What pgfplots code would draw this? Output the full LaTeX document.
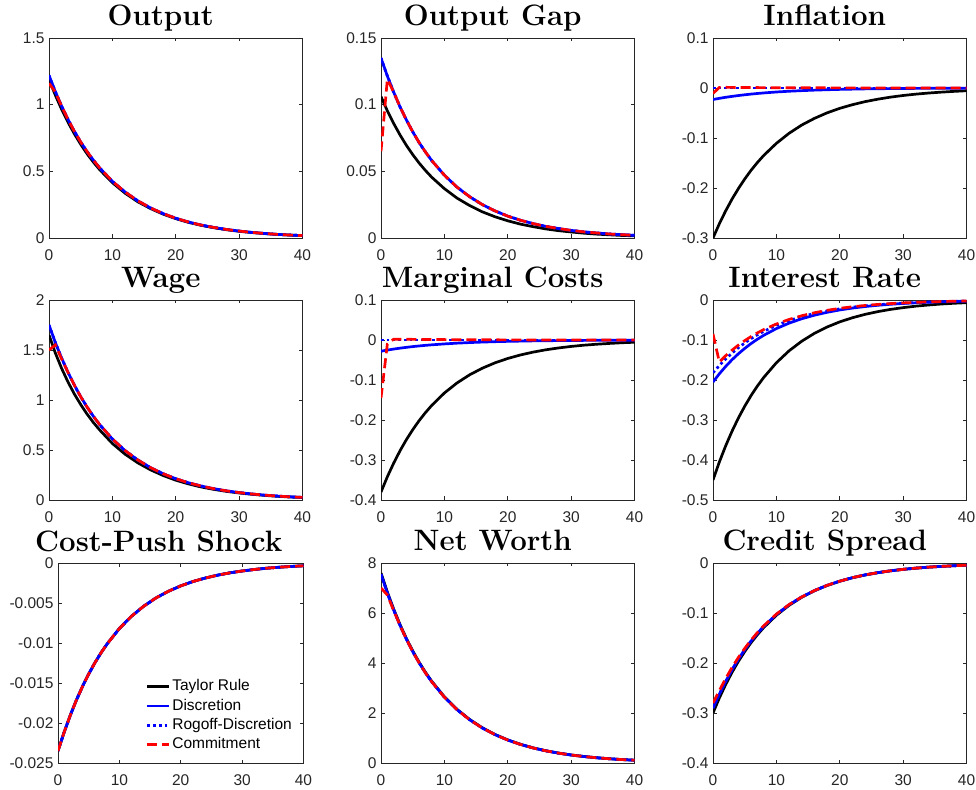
\documentclass[border=0pt]{standalone}
\usepackage{fontspec}
\setsansfont{Liberation Sans}
\usepackage{pgfplots}
\usepackage{pgfplotstable}
\pgfplotsset{compat=1.18}

\definecolor{axgray}{gray}{0.15}

% t tr di ro co  (tr = Taylor rule, di = discretion, ro = Rogoff, co = commitment)
\pgfplotstableread{
t tr di ro co
0 1.19 1.22 1.22 1.16
1 1.071 1.098 1.098 1.095
2 0.964 0.988 0.988 0.988
3 0.868 0.889 0.889 0.889
4 0.781 0.800 0.800 0.800
5 0.703 0.720 0.720 0.720
6 0.632 0.648 0.648 0.648
7 0.569 0.584 0.584 0.584
8 0.512 0.525 0.525 0.525
10 0.415 0.425 0.425 0.425
12 0.336 0.345 0.345 0.345
14 0.272 0.279 0.279 0.279
16 0.221 0.226 0.226 0.226
18 0.179 0.183 0.183 0.183
20 0.145 0.148 0.148 0.148
22 0.117 0.120 0.120 0.120
24 0.095 0.097 0.097 0.097
26 0.077 0.079 0.079 0.079
28 0.062 0.064 0.064 0.064
30 0.050 0.052 0.052 0.052
32 0.041 0.042 0.042 0.042
34 0.033 0.034 0.034 0.034
36 0.027 0.027 0.027 0.027
38 0.022 0.022 0.022 0.022
40 0.018 0.018 0.018 0.018
}\output

\pgfplotstableread{
t tr di ro co
0 0.106 0.135 0.135 0.065
1 0.0954 0.1215 0.1215 0.119
2 0.0859 0.1094 0.1094 0.1094
3 0.0773 0.0984 0.0984 0.0984
4 0.0695 0.0886 0.0886 0.0886
5 0.0626 0.0797 0.0797 0.0797
6 0.0563 0.0717 0.0717 0.0717
7 0.0507 0.0646 0.0646 0.0646
8 0.0456 0.0581 0.0581 0.0581
10 0.0370 0.0471 0.0471 0.0471
12 0.0299 0.0381 0.0381 0.0381
14 0.0243 0.0309 0.0309 0.0309
16 0.0196 0.0250 0.0250 0.0250
18 0.0159 0.0203 0.0203 0.0203
20 0.0129 0.0164 0.0164 0.0164
22 0.0104 0.0133 0.0133 0.0133
24 0.0085 0.0108 0.0108 0.0108
26 0.0068 0.0087 0.0087 0.0087
28 0.0055 0.0071 0.0071 0.0071
30 0.0045 0.0057 0.0057 0.0057
32 0.0036 0.0046 0.0046 0.0046
34 0.0029 0.0038 0.0038 0.0038
36 0.0024 0.0030 0.0030 0.0030
38 0.0019 0.0025 0.0025 0.0025
40 0.0016 0.0020 0.0020 0.0020
}\gap

\pgfplotstableread{
t tr di ro co
0 -0.300 -0.023 0 -0.011
1 -0.2715 -0.0207 0 0.0012
2 -0.2457 -0.0186 0 0.0013
3 -0.2223 -0.0168 0 0.0012
4 -0.2013 -0.0151 0 0.0011
5 -0.1821 -0.0136 0 0.0010
6 -0.1647 -0.0122 0 0.0009
7 -0.1491 -0.0110 0 0.0008
8 -0.1350 -0.0099 0 0.0007
10 -0.1107 -0.0080 0 0.0006
12 -0.0906 -0.0065 0 0.0005
14 -0.0741 -0.0053 0 0.0004
16 -0.0608 -0.0043 0 0.0003
18 -0.0497 -0.0035 0 0.0003
20 -0.0407 -0.0028 0 0.0002
22 -0.0334 -0.0023 0 0.0002
24 -0.0273 -0.0018 0 0.0001
26 -0.0224 -0.0015 0 0.0001
28 -0.0183 -0.0012 0 0.0001
30 -0.0150 -0.0010 0 0.0001
32 -0.0123 -0.0008 0 0
34 -0.0101 -0.0006 0 0
36 -0.0083 -0.0005 0 0
38 -0.0068 -0.0004 0 0
40 -0.0055 -0.0003 0 0
}\inflation

\pgfplotstableread{
t tr di ro co
0 1.65 1.75 1.75 1.50
1 1.47 1.575 1.575 1.55
2 1.315 1.4175 1.4175 1.41
3 1.18 1.2758 1.2758 1.2758
4 1.06 1.1482 1.1482 1.1482
5 0.955 1.0334 1.0334 1.0334
6 0.86 0.9300 0.9300 0.9300
7 0.775 0.8370 0.8370 0.8370
8 0.70 0.7534 0.7534 0.7534
10 0.565 0.6102 0.6102 0.6102
12 0.458 0.4942 0.4942 0.4942
14 0.372 0.4004 0.4004 0.4004
16 0.302 0.3243 0.3243 0.3243
18 0.245 0.2627 0.2627 0.2627
20 0.198 0.2128 0.2128 0.2128
22 0.161 0.1724 0.1724 0.1724
24 0.130 0.1397 0.1397 0.1397
26 0.106 0.1131 0.1131 0.1131
28 0.086 0.0915 0.0915 0.0915
30 0.070 0.0742 0.0742 0.0742
32 0.057 0.0600 0.0600 0.0600
34 0.046 0.0487 0.0487 0.0487
36 0.037 0.0394 0.0394 0.0394
38 0.030 0.0319 0.0319 0.0319
40 0.024 0.0259 0.0259 0.0259
}\wage

\pgfplotstableread{
t tr di ro co
0 -0.38 -0.028 0 -0.145
1 -0.342 -0.0252 0 -0.010
2 -0.3078 -0.0227 0 0.0020
3 -0.2770 -0.0204 0 0.0020
4 -0.2493 -0.0184 0 0.0018
5 -0.2244 -0.0165 0 0.0016
6 -0.2019 -0.0149 0 0.0015
7 -0.1818 -0.0134 0 0.0013
8 -0.1636 -0.0121 0 0.0012
10 -0.1325 -0.0098 0 0.0010
12 -0.1073 -0.0079 0 0.0008
14 -0.0869 -0.0064 0 0.0006
16 -0.0704 -0.0052 0 0.0005
18 -0.0570 -0.0042 0 0.0004
20 -0.0462 -0.0034 0 0.0003
22 -0.0374 -0.0028 0 0.0003
24 -0.0303 -0.0022 0 0.0002
26 -0.0245 -0.0018 0 0.0002
28 -0.0199 -0.0015 0 0.0001
30 -0.0161 -0.0012 0 0.0001
32 -0.0130 -0.0010 0 0.0001
34 -0.0106 -0.0008 0 0
36 -0.0086 -0.0006 0 0
38 -0.0069 -0.0005 0 0
40 -0.0056 -0.0004 0 0
}\mc

\pgfplotstableread{
t tr di ro co
0 -0.45 -0.205 -0.182 -0.085
1 -0.405 -0.1845 -0.1638 -0.155
2 -0.3645 -0.1661 -0.1474 -0.1393
3 -0.3281 -0.1494 -0.1327 -0.1254
4 -0.2952 -0.1345 -0.1194 -0.1128
5 -0.2657 -0.1211 -0.1075 -0.1016
6 -0.2391 -0.1089 -0.0967 -0.0914
7 -0.2152 -0.0981 -0.0871 -0.0823
8 -0.1937 -0.0883 -0.0784 -0.0740
10 -0.1569 -0.0715 -0.0635 -0.0600
12 -0.1271 -0.0579 -0.0514 -0.0486
14 -0.1030 -0.0469 -0.0416 -0.0394
16 -0.0834 -0.0380 -0.0337 -0.0319
18 -0.0675 -0.0308 -0.0273 -0.0258
20 -0.0547 -0.0249 -0.0221 -0.0209
22 -0.0443 -0.0202 -0.0179 -0.0169
24 -0.0359 -0.0164 -0.0145 -0.0137
26 -0.0291 -0.0132 -0.0118 -0.0111
28 -0.0235 -0.0107 -0.0095 -0.0090
30 -0.0191 -0.0087 -0.0077 -0.0073
32 -0.0154 -0.0070 -0.0062 -0.0059
34 -0.0125 -0.0057 -0.0051 -0.0048
36 -0.0101 -0.0046 -0.0041 -0.0039
38 -0.0082 -0.0037 -0.0033 -0.0031
40 -0.0067 -0.0030 -0.0027 -0.0025
}\interest

\pgfplotstableread{
t tr di ro co
0 -0.0235 -0.0235 -0.0235 -0.0235
1 -0.02115 -0.02115 -0.02115 -0.02115
2 -0.01904 -0.01904 -0.01904 -0.01904
3 -0.01713 -0.01713 -0.01713 -0.01713
4 -0.01542 -0.01542 -0.01542 -0.01542
5 -0.01388 -0.01388 -0.01388 -0.01388
6 -0.01249 -0.01249 -0.01249 -0.01249
7 -0.01124 -0.01124 -0.01124 -0.01124
8 -0.01012 -0.01012 -0.01012 -0.01012
10 -0.00819 -0.00819 -0.00819 -0.00819
12 -0.00664 -0.00664 -0.00664 -0.00664
14 -0.00538 -0.00538 -0.00538 -0.00538
16 -0.00435 -0.00435 -0.00435 -0.00435
18 -0.00353 -0.00353 -0.00353 -0.00353
20 -0.00286 -0.00286 -0.00286 -0.00286
22 -0.00231 -0.00231 -0.00231 -0.00231
24 -0.00188 -0.00188 -0.00188 -0.00188
26 -0.00152 -0.00152 -0.00152 -0.00152
28 -0.00123 -0.00123 -0.00123 -0.00123
30 -0.00100 -0.00100 -0.00100 -0.00100
32 -0.00081 -0.00081 -0.00081 -0.00081
34 -0.00065 -0.00065 -0.00065 -0.00065
36 -0.00053 -0.00053 -0.00053 -0.00053
38 -0.00043 -0.00043 -0.00043 -0.00043
40 -0.00035 -0.00035 -0.00035 -0.00035
}\costpush

\pgfplotstableread{
t tr di ro co
0 7.6 7.55 7.55 7.0
1 6.84 6.795 6.795 6.72
2 6.156 6.116 6.116 6.10
3 5.540 5.504 5.504 5.504
4 4.986 4.954 4.954 4.954
5 4.488 4.458 4.458 4.458
6 4.039 4.012 4.012 4.012
7 3.635 3.611 3.611 3.611
8 3.272 3.250 3.250 3.250
10 2.650 2.633 2.633 2.633
12 2.146 2.132 2.132 2.132
14 1.739 1.727 1.727 1.727
16 1.408 1.399 1.399 1.399
18 1.141 1.133 1.133 1.133
20 0.924 0.918 0.918 0.918
22 0.749 0.744 0.744 0.744
24 0.606 0.602 0.602 0.602
26 0.491 0.488 0.488 0.488
28 0.397 0.395 0.395 0.395
30 0.322 0.320 0.320 0.320
32 0.261 0.259 0.259 0.259
34 0.211 0.210 0.210 0.210
36 0.171 0.170 0.170 0.170
38 0.138 0.137 0.137 0.137
40 0.112 0.112 0.112 0.112
}\networth

\pgfplotstableread{
t tr di ro co
0 -0.300 -0.290 -0.290 -0.280
1 -0.270 -0.2625 -0.2625 -0.255
2 -0.243 -0.2368 -0.2368 -0.231
3 -0.2187 -0.2135 -0.2135 -0.2090
4 -0.1968 -0.1925 -0.1925 -0.1890
5 -0.1772 -0.1735 -0.1735 -0.1708
6 -0.1594 -0.1562 -0.1562 -0.1542
7 -0.1435 -0.1408 -0.1408 -0.1392
8 -0.1291 -0.1268 -0.1268 -0.1257
10 -0.1046 -0.1030 -0.1030 -0.1022
12 -0.0847 -0.0836 -0.0836 -0.0831
14 -0.0686 -0.0679 -0.0679 -0.0679
16 -0.0556 -0.0551 -0.0551 -0.0551
18 -0.0450 -0.0447 -0.0447 -0.0447
20 -0.0365 -0.0363 -0.0363 -0.0363
22 -0.0295 -0.0294 -0.0294 -0.0294
24 -0.0239 -0.0238 -0.0238 -0.0238
26 -0.0194 -0.0193 -0.0193 -0.0193
28 -0.0157 -0.0156 -0.0156 -0.0156
30 -0.0127 -0.0127 -0.0127 -0.0127
32 -0.0103 -0.0103 -0.0103 -0.0103
34 -0.0083 -0.0083 -0.0083 -0.0083
36 -0.0068 -0.0068 -0.0068 -0.0068
38 -0.0055 -0.0055 -0.0055 -0.0055
40 -0.0044 -0.0044 -0.0044 -0.0044
}\spread

\pgfplotsset{
  irf/.style={
    scale only axis, width=253.5pt, height=200pt, anchor=south west,
    xmin=0, xmax=40, xtick={0,10,20,30,40},
    tick align=inside, tick pos=both, major tick length=3.5pt,
    axis line style={axgray, line width=0.7pt},
    every tick/.style={axgray, line width=0.7pt},
    ticklabel style={font=\sffamily\fontsize{15.5}{16}\selectfont, text=axgray},
    xticklabel style={yshift=-8pt},
    yticklabel style={xshift=-1pt},
    /pgf/number format/fixed, /pgf/number format/precision=3,
    /pgf/number format/assume math mode=true,
    scaled y ticks=false,
    title style={font=\bfseries\fontsize{29.5}{31}\selectfont, at={(0.5,1)},
      anchor=base, yshift=6pt, xshift=-15pt, inner sep=0pt, text depth=0pt},
  },
  tr/.style={black, line width=2.7pt},
  di/.style={blue, line width=2.7pt},
  ro/.style={blue, line width=2.7pt, dash pattern=on 2.7pt off 3pt},
  co/.style={red, line width=2.7pt, dash pattern=on 10pt off 5pt},
}

\newcommand{\irf}[1]{%
  \addplot[tr] table[x=t, y=tr] {#1};
  \addplot[di] table[x=t, y=di] {#1};
  \addplot[ro] table[x=t, y=ro] {#1};
  \addplot[co] table[x=t, y=co] {#1};
}

\begin{document}
\begin{tikzpicture}
\useasboundingbox (0pt,0pt) rectangle (976pt,789pt);

% row 1
\begin{axis}[irf, at={(49pt,551pt)}, title={Output},
  ymin=0, ymax=1.5, ytick={0,0.5,1,1.5}]
\irf{\output}
\end{axis}
\begin{axis}[irf, at={(381pt,551pt)}, title={Output Gap},
  ymin=0, ymax=0.15, ytick={0,0.05,0.1,0.15}]
\irf{\gap}
\end{axis}
\begin{axis}[irf, at={(713pt,551pt)}, title={Inflation},
  ymin=-0.3, ymax=0.1, ytick={-0.3,-0.2,-0.1,0,0.1}]
\irf{\inflation}
\end{axis}

% row 2
\begin{axis}[irf, at={(49pt,289pt)}, title={Wage},
  ymin=0, ymax=2, ytick={0,0.5,1,1.5,2}]
\irf{\wage}
\end{axis}
\begin{axis}[irf, at={(381pt,289pt)}, title={Marginal Costs},
  ymin=-0.4, ymax=0.1, ytick={-0.4,-0.3,-0.2,-0.1,0,0.1}]
\irf{\mc}
\end{axis}
\begin{axis}[irf, at={(713pt,289pt)}, title={Interest Rate},
  ymin=-0.5, ymax=0, ytick={-0.5,-0.4,-0.3,-0.2,-0.1,0}]
\irf{\interest}
\end{axis}

% row 3
\begin{axis}[irf, at={(58pt,26pt)}, width=245.5pt, title={Cost-Push Shock},
  title style={xshift=-7pt},
  ymin=-0.025, ymax=0, ytick={-0.025,-0.02,-0.015,-0.01,-0.005,0},
  legend style={at={(0.346,0.037)}, anchor=south west, draw=none, fill=none,
    font=\sffamily\fontsize{15.5}{16}\selectfont, row sep=1.2pt,
    nodes={inner sep=1.5pt, text height=11.5pt, text depth=3.5pt}},
  legend cell align=left,
  legend image code/.code={\draw[#1] (0pt,0pt) -- (22pt,0pt);}]
\irf{\costpush}
\legend{Taylor Rule, Discretion, Rogoff-Discretion, Commitment}
\end{axis}
\begin{axis}[irf, at={(381pt,26pt)}, title={Net Worth},
  ymin=0, ymax=8, ytick={0,2,4,6,8}]
\irf{\networth}
\end{axis}
\begin{axis}[irf, at={(713pt,26pt)}, title={Credit Spread},
  ymin=-0.4, ymax=0, ytick={-0.4,-0.3,-0.2,-0.1,0}]
\irf{\spread}
\end{axis}
\end{tikzpicture}
\end{document}
